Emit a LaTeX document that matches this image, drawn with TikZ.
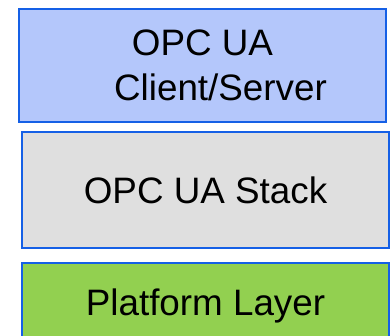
\documentclass[tikz,border=0pt]{standalone}
\usepackage{fontspec}
\setmainfont{Liberation Sans}
\definecolor{layeredge}{HTML}{1560E6}
\definecolor{appfill}{HTML}{B4C7FB}
\definecolor{stackfill}{HTML}{DFDFDF}
\definecolor{platfill}{HTML}{92D050}
\begin{document}
\begin{tikzpicture}[x=1pt,y=-1pt,
  layer/.style={draw=layeredge, line width=2pt, anchor=north west,
    inner sep=0pt, align=center, text=black,
    font=\fontsize{36.8}{45}\selectfont}]
\useasboundingbox (0,0) rectangle (390,336);
\clip (0,0) rectangle (390,336);
% application layer
\node[layer, fill=appfill, minimum width=367pt, minimum height=113pt]
  (app) at (18,8) {OPC UA\\\hspace*{36pt}Client/Server};
% communication stack
\node[layer, fill=stackfill, minimum width=367pt, minimum height=116pt]
  (stack) at (21,131) {OPC UA Stack};
% platform abstraction (runs past the lower edge)
\node[layer, fill=platfill, minimum width=367pt, minimum height=86pt]
  (platform) at (21,262) {Platform Layer};
\end{tikzpicture}
\end{document}
